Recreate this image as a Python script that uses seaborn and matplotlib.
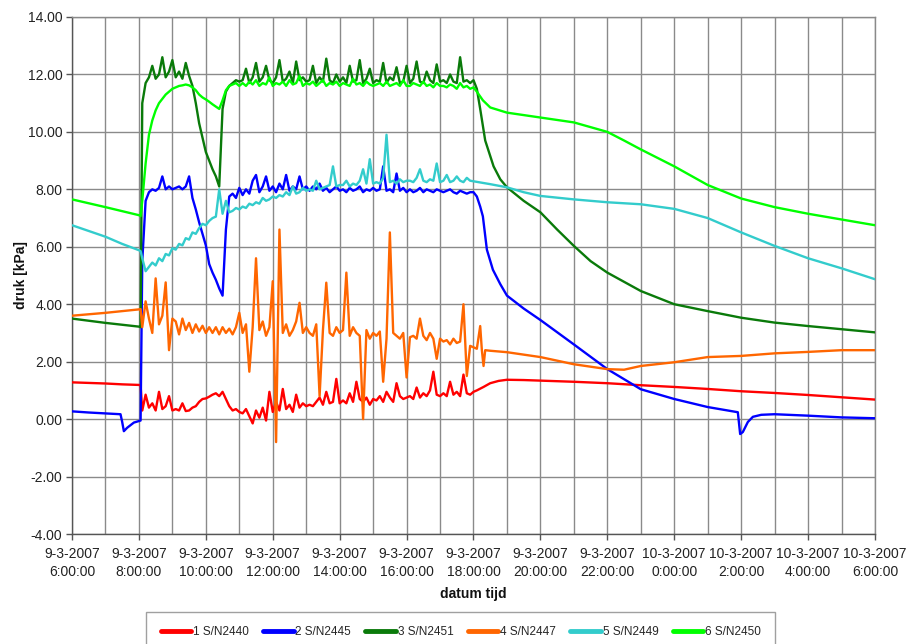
import numpy as np
import pandas as pd
import matplotlib
matplotlib.use("Agg")
import matplotlib.pyplot as plt
from matplotlib.lines import Line2D
import seaborn as sns

# ---------------- data (hours counted from 9-3-2007 0:00) ----------------
series_names = ["1 S/N2440", "2 S/N2445", "3 S/N2451", "4 S/N2447", "5 S/N2449", "6 S/N2450"]
series_colors = ["#ff0000", "#0000ff", "#0a7a0a", "#ff6600", "#33cccc", "#00ff00"]

x_tick_labels = ["9-3-2007\n6:00:00", "9-3-2007\n8:00:00", "9-3-2007\n10:00:00",
                 "9-3-2007\n12:00:00", "9-3-2007\n14:00:00", "9-3-2007\n16:00:00",
                 "9-3-2007\n18:00:00", "9-3-2007\n20:00:00", "9-3-2007\n22:00:00",
                 "10-3-2007\n0:00:00", "10-3-2007\n2:00:00", "10-3-2007\n4:00:00",
                 "10-3-2007\n6:00:00"]
y_ticks = [-4, -2, 0, 2, 4, 6, 8, 10, 12, 14]

# sampling times of the noisy measuring period 8:06 .. 18:00 (one row = one hour)
grid_hours = [round(8.1 + 0.1 * i, 1) for i in range(100)]

# 1 S/N2440 (red)
red_before = [(6.0, 1.28), (6.5, 1.26), (7.0, 1.24), (7.5, 1.21), (8.0, 1.19), (8.05, 1.18)]
red_noisy = [0.30, 0.85, 0.40, 0.55, 0.30, 0.95, 0.35, 0.45, 0.80, 0.30,
             0.35, 0.30, 0.55, 0.28, 0.30, 0.40, 0.45, 0.60, 0.70, 0.72,
             0.78, 0.85, 0.90, 0.80, 0.95, 0.70, 0.45, 0.30, 0.35, 0.25,
             0.20, 0.35, 0.10, -0.15, 0.30, 0.05, 0.40, -0.05, 0.95, 0.25,
             0.60, 0.30, 1.05, 0.35, 0.50, 0.25, 0.85, 0.40, 0.55, 0.45,
             0.50, 0.45, 0.60, 0.75, 0.50, 0.95, 0.55, 0.60, 1.40, 0.55,
             0.65, 0.55, 0.90, 0.60, 1.30, 0.70, 0.60, 0.75, 0.50, 0.70,
             0.65, 0.80, 0.60, 0.95, 0.75, 0.60, 1.25, 0.80, 0.70, 0.75,
             0.80, 0.70, 1.10, 0.75, 0.90, 0.80, 1.00, 1.65, 0.85, 0.80,
             0.90, 0.80, 1.30, 0.85, 0.95, 0.80, 1.55, 0.90, 0.85, 0.95]
red_after = [(18.1, 1.00), (18.3, 1.12), (18.5, 1.25), (18.75, 1.33), (19.0, 1.37), (19.5, 1.36),
             (20.0, 1.34), (21.0, 1.30), (22.0, 1.25), (23.0, 1.18), (24.0, 1.12), (25.0, 1.05),
             (26.0, 0.97), (27.0, 0.91), (28.0, 0.84), (29.0, 0.76), (30.0, 0.68)]

# 2 S/N2445 (blue)
blue_before = [(6.0, 0.27), (6.5, 0.23), (7.0, 0.20), (7.45, 0.17), (7.5, -0.10), (7.55, -0.42),
               (7.65, -0.30), (7.85, -0.12), (8.05, -0.05)]
blue_noisy = [5.50, 7.60, 7.90, 8.00, 7.95, 8.05, 8.45, 8.00, 8.10, 8.00,
              8.05, 8.10, 8.00, 8.10, 8.45, 7.70, 7.30, 6.85, 6.45, 6.05,
              5.40, 5.10, 4.85, 4.55, 4.30, 6.60, 7.75, 7.85, 7.70, 8.05,
              7.80, 8.00, 7.85, 8.30, 8.50, 7.90, 8.10, 8.45, 7.95, 8.10,
              7.90, 8.20, 8.00, 8.50, 7.95, 8.10, 8.00, 8.45, 8.00, 8.10,
              7.95, 8.10, 8.00, 8.20, 7.95, 8.05, 7.90, 8.00, 8.10, 7.95,
              8.00, 7.90, 8.05, 7.95, 8.00, 8.10, 7.90, 8.00, 7.95, 8.05,
              7.95, 8.00, 8.80, 7.95, 8.00, 7.90, 8.55, 7.95, 8.05, 7.90,
              8.00, 7.90, 7.95, 8.05, 7.90, 8.00, 7.95, 7.90, 8.00, 7.95,
              7.90, 7.95, 8.00, 7.90, 7.85, 7.95, 7.90, 7.85, 7.90, 7.90]
blue_after = [(18.1, 7.75), (18.2, 7.40), (18.28, 7.06), (18.4, 5.90), (18.58, 5.20), (18.8, 4.70),
              (19.0, 4.30), (19.5, 3.85), (20.0, 3.45), (21.0, 2.60), (22.0, 1.74), (23.0, 1.04),
              (24.0, 0.70), (25.0, 0.42), (25.9, 0.24), (25.93, -0.10), (25.97, -0.52), (26.05, -0.45),
              (26.2, -0.10), (26.35, 0.08), (26.6, 0.15), (27.0, 0.17), (28.0, 0.12), (29.0, 0.06),
              (30.0, 0.03)]

# 3 S/N2451 (dark green)
dgreen_before = [(6.0, 3.50), (7.0, 3.35), (8.0, 3.22), (8.05, 3.20)]
dgreen_noisy = [11.00, 11.70, 11.90, 12.30, 11.85, 12.00, 12.60, 11.90, 12.10, 12.50,
                11.90, 12.10, 11.85, 12.40, 11.95, 11.60, 11.00, 10.30, 9.80, 9.30,
                9.00, 8.70, 8.45, 8.10, 10.80, 11.40, 11.60, 11.70, 11.80, 11.75,
                11.80, 12.20, 11.70, 11.90, 12.40, 11.75, 11.90, 12.30, 11.80, 11.70,
                11.90, 12.50, 11.75, 11.85, 12.10, 11.70, 12.45, 11.80, 11.90, 11.75,
                11.80, 12.30, 11.70, 11.90, 11.75, 12.55, 11.80, 11.70, 12.00, 11.75,
                11.90, 11.70, 12.30, 11.75, 11.80, 12.50, 11.70, 11.85, 12.20, 11.70,
                11.80, 11.75, 12.40, 11.70, 11.90, 11.80, 12.25, 11.70, 11.75, 12.30,
                11.70, 11.85, 12.45, 11.75, 11.70, 12.10, 11.80, 11.70, 12.35, 11.75,
                11.80, 11.70, 12.00, 11.75, 11.70, 12.60, 11.75, 11.80, 11.70, 11.80]
dgreen_after = [(18.1, 11.50), (18.2, 10.80), (18.35, 9.70), (18.6, 8.80), (18.8, 8.35), (19.0, 8.07),
                (19.5, 7.60), (20.0, 7.20), (20.5, 6.60), (21.0, 6.03), (21.5, 5.50), (22.0, 5.10),
                (23.0, 4.46), (24.0, 4.00), (25.0, 3.76), (26.0, 3.53), (27.0, 3.36), (28.0, 3.24),
                (29.0, 3.13), (30.0, 3.02)]

# 4 S/N2447 (orange)
orange_before = [(6.0, 3.60), (7.0, 3.70), (8.0, 3.82), (8.05, 3.83)]
orange_noisy = [3.20, 4.10, 3.50, 3.00, 4.90, 3.30, 3.60, 4.76, 2.40, 3.50,
                3.40, 2.95, 3.50, 3.10, 3.35, 3.00, 3.30, 3.05, 3.25, 3.00,
                3.20, 3.00, 3.20, 2.95, 3.20, 3.00, 3.15, 2.95, 3.20, 3.70,
                3.00, 3.30, 1.65, 3.20, 5.60, 3.10, 3.40, 2.90, 3.20, 4.80,
                -0.80, 6.60, 3.00, 3.30, 2.90, 3.10, 3.40, 4.05, 3.00, 3.20,
                3.00, 2.90, 3.30, 0.80, 3.10, 4.75, 3.00, 2.90, 3.20, 3.00,
                3.10, 5.10, 2.90, 3.20, 3.00, 2.90, 0.00, 3.10, 2.80, 3.00,
                2.90, 3.05, 1.30, 2.80, 6.50, 3.00, 2.90, 2.80, 3.00, 1.45,
                2.85, 2.90, 2.80, 3.50, 2.90, 2.75, 3.00, 2.80, 2.10, 2.80,
                2.70, 2.75, 2.60, 2.80, 2.65, 2.70, 4.00, 1.50, 2.55, 2.50]
orange_after = [(18.1, 2.45), (18.2, 3.24), (18.25, 2.40), (18.3, 1.85), (18.35, 2.40), (18.5, 2.38),
                (19.0, 2.33), (20.0, 2.16), (21.0, 1.91), (22.0, 1.74), (22.5, 1.72), (23.0, 1.85),
                (24.0, 1.98), (25.0, 2.16), (26.0, 2.20), (27.0, 2.29), (28.0, 2.34), (29.0, 2.40),
                (30.0, 2.40)]

# 5 S/N2449 (turquoise)
cyan_before = [(6.0, 6.75), (7.0, 6.35), (7.5, 6.10), (8.0, 5.88), (8.05, 5.85)]
cyan_noisy = [5.60, 5.15, 5.30, 5.45, 5.35, 5.60, 5.50, 5.75, 5.70, 5.95,
              5.90, 6.10, 6.05, 6.30, 6.25, 6.50, 6.45, 6.65, 6.80, 6.75,
              6.90, 7.00, 7.05, 8.00, 7.15, 7.60, 7.20, 7.25, 7.35, 7.30,
              7.40, 7.35, 7.50, 7.45, 7.55, 7.50, 7.70, 7.60, 7.65, 7.75,
              7.70, 7.80, 7.75, 7.90, 7.80, 8.10, 7.85, 7.90, 8.05, 7.95,
              8.00, 7.95, 8.30, 8.00, 8.05, 8.10, 8.15, 8.80, 8.10, 8.15,
              8.15, 8.30, 8.10, 8.20, 8.15, 8.30, 8.70, 8.20, 9.05, 8.20,
              8.25, 8.20, 8.40, 9.90, 8.25, 8.30, 8.20, 8.35, 8.25, 8.30,
              8.30, 8.25, 8.40, 8.70, 8.30, 8.25, 8.35, 8.30, 8.90, 8.25,
              8.30, 8.50, 8.25, 8.30, 8.45, 8.30, 8.25, 8.40, 8.30, 8.28]
cyan_after = [(18.1, 8.26), (18.5, 8.18), (19.0, 8.07), (19.5, 7.90), (20.0, 7.77), (21.0, 7.65),
              (22.0, 7.55), (23.0, 7.48), (24.0, 7.32), (25.0, 7.00), (26.0, 6.50), (27.0, 6.03),
              (28.0, 5.60), (29.0, 5.25), (30.0, 4.87)]

# 6 S/N2450 (light green)
lgreen_before = [(6.0, 7.65), (7.0, 7.38), (8.0, 7.10), (8.05, 7.07)]
lgreen_noisy = [7.60, 8.90, 9.90, 10.40, 10.75, 11.00, 11.15, 11.30, 11.40, 11.50,
                11.55, 11.60, 11.62, 11.65, 11.62, 11.55, 11.45, 11.30, 11.20, 11.13,
                11.05, 10.96, 10.88, 10.80, 11.10, 11.45, 11.60, 11.65, 11.70, 11.60,
                11.70, 11.60, 11.75, 11.65, 11.80, 11.60, 11.70, 11.65, 11.90, 11.60,
                11.70, 11.65, 11.75, 11.60, 11.80, 11.65, 11.70, 11.95, 11.60, 11.70,
                11.65, 11.75, 11.60, 11.70, 11.80, 11.60, 11.70, 11.65, 11.75, 11.60,
                11.70, 11.65, 11.60, 11.85, 11.65, 11.70, 11.60, 11.75, 11.65, 11.60,
                11.65, 11.70, 11.60, 11.75, 11.60, 11.65, 11.70, 11.60, 11.80, 11.60,
                11.60, 11.70, 11.65, 11.60, 11.75, 11.60, 11.65, 11.55, 11.70, 11.60,
                11.60, 11.55, 11.65, 11.60, 11.50, 11.70, 11.55, 11.60, 11.50, 11.55]
lgreen_after = [(18.1, 11.40), (18.28, 11.10), (18.5, 10.85), (19.0, 10.67), (20.0, 10.50),
                (21.0, 10.33), (22.0, 10.00), (22.5, 9.70), (23.0, 9.39), (24.0, 8.80),
                (25.0, 8.15), (26.0, 7.68), (27.0, 7.38), (28.0, 7.15), (29.0, 6.95), (30.0, 6.75)]

segments = [
    (red_before, red_noisy, red_after),
    (blue_before, blue_noisy, blue_after),
    (dgreen_before, dgreen_noisy, dgreen_after),
    (orange_before, orange_noisy, orange_after),
    (cyan_before, cyan_noisy, cyan_after),
    (lgreen_before, lgreen_noisy, lgreen_after),
]

rows = []
for name, (before, noisy, after) in zip(series_names, segments):
    pts = list(before) + list(zip(grid_hours, noisy)) + list(after)
    for h, v in pts:
        rows.append({"hours": h, "druk": v, "sensor": name})
df = pd.DataFrame(rows)

# ---------------- plot ----------------
sns.set_theme(style="white")
plt.rcParams["font.family"] = ["Liberation Sans", "DejaVu Sans"]

fig = plt.figure(figsize=(9.07, 6.44), dpi=100)
ax = fig.add_axes([72 / 907, 1 - 534 / 644, 803 / 907, 517 / 644])

grid_col = "#8a8a8a"
sns.lineplot(data=df, x="hours", y="druk", hue="sensor", hue_order=series_names,
             palette=series_colors, estimator=None, sort=False, linewidth=1.7,
             legend=False, ax=ax, zorder=3)

ax.set_xlim(6, 30)
ax.set_ylim(-4, 14)
ax.set_xticks(list(range(6, 31, 2)))
ax.set_xticklabels(x_tick_labels, linespacing=1.45)
ax.set_xticks(list(range(6, 31)), minor=True)
ax.set_yticks(y_ticks)
ax.set_yticklabels([f"{v:.2f}" for v in y_ticks])

ax.grid(True, which="both", axis="x", color=grid_col, linewidth=1.0, zorder=0)
ax.grid(True, which="major", axis="y", color=grid_col, linewidth=1.0, zorder=0)
ax.set_axisbelow(True)

for s in ax.spines.values():
    s.set_color(grid_col)
    s.set_linewidth(1.0)
ax.spines["left"].set_color("#555555")
ax.spines["bottom"].set_color("#555555")

ax.tick_params(axis="x", which="major", direction="out", length=4, width=1,
               color="#555555", labelsize=10, labelcolor="#222222", pad=5, bottom=True)
ax.tick_params(axis="x", which="minor", length=0)
ax.tick_params(axis="y", which="major", direction="out", length=4, width=1,
               color="#555555", labelsize=10, labelcolor="#222222", pad=3, left=True)

ax.set_xlabel("datum tijd", fontsize=10, fontweight="bold", color="#111111")
ax.set_ylabel("druk [kPa]", fontsize=10, fontweight="bold", color="#111111")
ax.xaxis.set_label_coords(0.5, -0.103)
ax.yaxis.set_label_coords(-0.055, 0.5)

handles = [Line2D([0], [0], color=c, lw=3.5) for c in series_colors]
leg = fig.legend(handles, series_names, loc="upper center", bbox_to_anchor=(0.508, 0.059),
                 ncol=6, frameon=True, fancybox=False, edgecolor="#888888", fontsize=8.5,
                 handlelength=2.6, handletextpad=0.15, columnspacing=1.2, borderpad=1.2)
leg.get_frame().set_linewidth(1.0)

fig.savefig("out.png", dpi=100, facecolor="white")
